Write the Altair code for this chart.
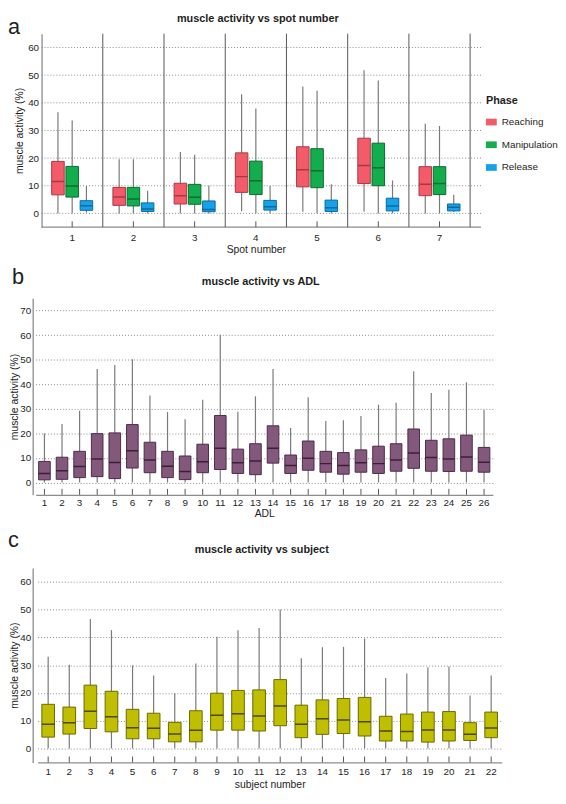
import altair as alt
import pandas as pd

FONT = "Liberation Sans"

# ---------------- panel a: spot number x phase ----------------
phases = ["Reaching", "Manipulation", "Release"]
fill_a = ["#F45B69", "#12AE4D", "#16A2E8"]
stroke_a = ["#A83844", "#0B6B30", "#0D6A9E"]
spots = [1, 2, 3, 4, 5, 6, 7]

reach_min = [0.0, 0.0, 0.0, 0.8, 0.6, 0.6, 0.0]
reach_q1 = [6.7, 2.9, 3.4, 7.6, 9.6, 10.8, 6.4]
reach_med = [11.5, 5.9, 6.4, 13.3, 15.8, 17.3, 10.5]
reach_q3 = [18.8, 9.4, 10.9, 21.9, 24.1, 27.2, 16.9]
reach_max = [36.6, 19.6, 22.2, 43.1, 45.9, 51.8, 32.4]

manip_min = [0.0, 0.0, 0.0, 0.0, 0.0, 0.0, 0.0]
manip_q1 = [5.9, 2.7, 3.3, 6.8, 9.3, 10.0, 6.8]
manip_med = [9.9, 5.2, 5.8, 11.8, 15.4, 16.5, 10.8]
manip_q3 = [17.0, 9.4, 10.5, 18.9, 23.4, 25.4, 16.9]
manip_max = [33.6, 19.6, 21.2, 37.9, 44.4, 48.1, 31.6]

rel_min = [0.3, 0.0, 0.0, 0.0, 0.0, 0.0, 0.5]
rel_q1 = [1.1, 0.7, 0.6, 1.2, 0.7, 0.9, 0.9]
rel_med = [2.8, 1.6, 1.4, 2.4, 2.0, 2.7, 2.2]
rel_q3 = [4.6, 3.8, 4.5, 4.7, 4.8, 5.5, 3.4]
rel_max = [9.9, 8.2, 10.1, 9.9, 10.5, 11.9, 6.7]

# ---------------- panel b: ADL ----------------
adls = list(range(1, 27))
adl_min = [0.0] * 26
adl_q1 = [1.1, 1.3, 2.0, 2.4, 1.6, 5.9, 4.0, 2.0, 1.2, 4.0, 5.3, 3.7, 3.2,
          7.9, 3.7, 5.0, 4.2, 3.4, 4.2, 3.7, 4.6, 5.8, 4.6, 4.5, 4.6, 4.2]
adl_med = [3.7, 4.8, 6.5, 9.6, 8.2, 12.9, 9.2, 6.6, 4.5, 8.5, 14.0, 8.1, 8.8,
           14.0, 6.9, 9.9, 7.7, 6.9, 8.1, 7.7, 9.2, 12.0, 10.2, 9.6, 10.4, 8.3]
adl_q3 = [8.6, 10.3, 12.7, 19.9, 20.2, 23.6, 16.4, 12.7, 10.8, 15.6, 27.3, 13.6, 15.8,
          23.1, 11.2, 16.9, 12.7, 12.2, 13.3, 14.8, 15.8, 21.8, 17.2, 17.8, 19.3, 14.3]
adl_max = [20.0, 23.8, 29.2, 46.2, 47.9, 50.2, 35.4, 28.7, 25.8, 33.7, 60.2, 28.8, 35.1,
           46.2, 22.2, 34.7, 25.1, 25.4, 27.1, 31.7, 32.5, 45.3, 36.5, 37.8, 40.8, 29.5]

# ---------------- panel c: subject ----------------
subjects = list(range(1, 23))
sub_min = [0.0] * 22
sub_q1 = [4.1, 5.2, 7.2, 6.0, 3.5, 3.5, 2.4, 2.4, 6.6, 6.6, 6.3, 8.2, 3.9, 5.1,
          5.4, 4.5, 2.7, 2.7, 2.3, 2.7, 2.9, 3.9]
sub_med = [8.7, 9.3, 13.4, 11.4, 7.5, 7.3, 5.2, 6.6, 12.0, 12.5, 11.7, 15.3, 8.7, 10.7,
           10.3, 9.6, 6.3, 6.1, 6.7, 6.7, 5.1, 7.4]
sub_q3 = [15.9, 14.9, 22.8, 20.6, 14.1, 12.7, 9.4, 13.6, 19.9, 20.9, 21.1, 24.8, 15.6, 17.5,
          18.0, 18.4, 11.6, 12.4, 13.1, 13.3, 9.3, 13.1]
sub_max = [33.0, 30.1, 46.6, 42.6, 29.9, 26.3, 19.9, 30.6, 40.2, 42.6, 43.4, 50.0, 32.5, 36.4,
           36.6, 39.6, 25.4, 27.0, 29.2, 29.5, 19.1, 26.3]

# ---------------- tables ----------------
rows = []
for ph, mn, q1, md, q3, mx in [
    ("Reaching", reach_min, reach_q1, reach_med, reach_q3, reach_max),
    ("Manipulation", manip_min, manip_q1, manip_med, manip_q3, manip_max),
    ("Release", rel_min, rel_q1, rel_med, rel_q3, rel_max),
]:
    for i, s in enumerate(spots):
        rows.append(dict(spot=s, phase=ph, lo=mn[i], q1=q1[i], med=md[i], q3=q3[i], hi=mx[i]))
df_a = pd.DataFrame(rows)
df_spots = pd.DataFrame({"spot": spots})
df_b = pd.DataFrame(dict(adl=adls, lo=adl_min, q1=adl_q1, med=adl_med, q3=adl_q3, hi=adl_max))
df_c = pd.DataFrame(dict(subject=subjects, lo=sub_min, q1=sub_q1, med=sub_med, q3=sub_q3, hi=sub_max))

GRID = "#8c8c8c"
TXT = "#1e1e1e"


def yenc(field, domain, values, label_pad, title_pad, grid=True, offset=0):
    return alt.Y(
        f"{field}:Q",
        title="muscle activity (%)",
        scale=alt.Scale(domain=domain, nice=False, zero=False),
        axis=alt.Axis(values=values, grid=grid, gridDash=[1, 2], gridColor=GRID, gridWidth=1,
                      ticks=False, domainColor=GRID, domainWidth=1.3, labelFontSize=10,
                      labelPadding=label_pad, labelColor=TXT, titleFontSize=10.5,
                      titleFontWeight="normal", titleColor=TXT, titlePadding=title_pad,
                      offset=offset),
    )


def xenc(field, title, rng, label_pad, title_pad, domain=True, **kw):
    return alt.X(
        f"{field}:O",
        title=title,
        scale=alt.Scale(range=rng, paddingInner=0, paddingOuter=0),
        axis=alt.Axis(labelAngle=0, ticks=False, grid=False, domain=domain, domainColor=GRID,
                      domainWidth=1.3, labelFontSize=10, labelPadding=label_pad, labelColor=TXT,
                      titleFontSize=10.5, titleFontWeight="normal", titleColor=TXT,
                      titlePadding=title_pad),
        **kw,
    )


def text_layer(txt, dx, dy, size, weight="normal", align="left", baseline="alphabetic"):
    return alt.Chart(pd.DataFrame({"t": [txt]})).mark_text(
        fontSize=size, fontWeight=weight, align=align, baseline=baseline, font=FONT, color=TXT
    ).encode(x=alt.value(dx), y=alt.value(dy), text="t:N")


# ---------------- panel a ----------------
# plot group starts where panels b and c start; the visible frame of panel a is inset
INSET = 9
WA, HA = 454, 196
dom_a = [-5, 65]
vals_a = [0, 10, 20, 30, 40, 50, 60]
xa = lambda **kw: xenc("spot", "Spot number", [INSET, INSET + 434], 5, 3, domain=False, **kw)
ya = lambda f: yenc(f, dom_a, vals_a, 3, 3, grid=False, offset=-INSET)
xoff = alt.XOffset("phase:N", sort=phases, scale=alt.Scale(paddingInner=0.12, paddingOuter=0.71))
stroke_scale = alt.Scale(domain=phases, range=stroke_a)

grid_a = alt.Chart(pd.DataFrame({"g": vals_a})).mark_rule(
    color=GRID, strokeDash=[1, 2], strokeWidth=1).encode(
    x=alt.value(INSET), x2=alt.value(WA), y=ya("g"))
base_a = alt.Chart(pd.DataFrame({"g": [0]})).mark_rule(color=GRID, strokeWidth=1.3).encode(
    x=alt.value(INSET), x2=alt.value(WA), y=alt.value(HA))
sep_a = alt.Chart(df_spots).mark_rule(color="#555555", strokeWidth=1).encode(
    x=xa(bandPosition=1), y=alt.value(0), y2=alt.value(HA))
tick_a = alt.Chart(df_spots).mark_rule(color="#555555", strokeWidth=1).encode(
    x=xa(), y=alt.value(HA - 6), y2=alt.value(HA))
whisk_a = alt.Chart(df_a).mark_rule(color="#7a7a7a", strokeWidth=1.2).encode(
    x=xa(), xOffset=xoff, y=ya("lo"), y2="hi:Q")
box_a = alt.Chart(df_a).mark_bar(strokeWidth=1).encode(
    x=xa(), xOffset=xoff, y=ya("q1"), y2="q3:Q",
    fill=alt.Fill("phase:N", sort=phases, scale=alt.Scale(domain=phases, range=fill_a),
                  legend=alt.Legend(title="Phase", orient="none", legendX=459, legendY=62,
                                    titleFontSize=11, titleFontWeight="bold", titleColor=TXT,
                                    labelFontSize=10, labelColor=TXT,
                                    symbolType="M-1,-0.62L1,-0.62L1,0.62L-1,0.62Z",
                                    symbolSize=121, symbolStrokeWidth=0, symbolOpacity=1,
                                    rowPadding=12, titlePadding=11, labelOffset=5)),
    stroke=alt.Stroke("phase:N", sort=phases, scale=stroke_scale, legend=None))
med_a = alt.Chart(df_a).mark_bar(fillOpacity=0, strokeWidth=1.5).encode(
    x=xa(), xOffset=xoff, y=ya("med"), y2="med:Q",
    stroke=alt.Stroke("phase:N", sort=phases, scale=stroke_scale, legend=None))

panel_a = alt.layer(
    grid_a, base_a, whisk_a, box_a, med_a, sep_a, tick_a,
    text_layer("a", -25, 0, 22),
    text_layer("muscle activity vs spot number", 228, -14.5, 11, "bold", "center", "middle"),
).properties(width=WA, height=HA)

# ---------------- panel b ----------------
WB, HB = 477, 199
dom_b = [-5, 75]
vals_b = [0, 10, 20, 30, 40, 50, 60, 70]
xb = lambda: xenc("adl", "ADL", [3, 466], 3, 1)
yb = lambda f: yenc(f, dom_b, vals_b, 2, 0)
fill_b, stroke_b = "#84587D", "#4A2C46"

whisk_b = alt.Chart(df_b).mark_rule(color="#7a7a7a", strokeWidth=1.2).encode(
    x=xb(), y=yb("lo"), y2="hi:Q")
box_b = alt.Chart(df_b).mark_bar(width=alt.RelativeBandSize(0.66), fill=fill_b, stroke=stroke_b,
                                 strokeWidth=1).encode(x=xb(), y=yb("q1"), y2="q3:Q")
med_b = alt.Chart(df_b).mark_bar(width=alt.RelativeBandSize(0.66), fillOpacity=0, stroke="#3a2035",
                                 strokeWidth=1.5).encode(x=xb(), y=yb("med"), y2="med:Q")
tick_b = alt.Chart(df_b).mark_rule(color="#555555", strokeWidth=1).encode(
    x=xb(), y=alt.value(HB - 6), y2=alt.value(HB))

panel_b = alt.layer(
    whisk_b, box_b, med_b, tick_b,
    text_layer("b", -21, -15, 22),
    text_layer("muscle activity vs ADL", 231, -16, 11, "bold", "center", "middle"),
).properties(width=WB, height=HB)

# ---------------- panel c ----------------
WC, HC = 476, 197
dom_c = [-5, 65]
vals_c = [0, 10, 20, 30, 40, 50, 60]
xc = lambda: xenc("subject", "subject number", [5, 475], 4, 3)
yc = lambda f: yenc(f, dom_c, vals_c, 2, 0)
fill_c, stroke_c = "#BFBE00", "#6B6A00"

whisk_c = alt.Chart(df_c).mark_rule(color="#7a7a7a", strokeWidth=1.2).encode(
    x=xc(), y=yc("lo"), y2="hi:Q")
box_c = alt.Chart(df_c).mark_bar(width=alt.RelativeBandSize(0.6), fill=fill_c, stroke=stroke_c,
                                 strokeWidth=1).encode(x=xc(), y=yc("q1"), y2="q3:Q")
med_c = alt.Chart(df_c).mark_bar(width=alt.RelativeBandSize(0.6), fillOpacity=0, stroke="#4a4900",
                                 strokeWidth=1.5).encode(x=xc(), y=yc("med"), y2="med:Q")
tick_c = alt.Chart(df_c).mark_rule(color="#555555", strokeWidth=1).encode(
    x=xc(), y=alt.value(HC - 6), y2=alt.value(HC))

panel_c = alt.layer(
    whisk_c, box_c, med_c, tick_c,
    text_layer("c", -25, -21, 22),
    text_layer("muscle activity vs subject", 232, -18, 11, "bold", "center", "middle"),
).properties(width=WC, height=HC)

chart = alt.concat(panel_a, panel_b, panel_c, columns=1, spacing=10).properties(
    padding={"left": 0, "top": 0, "right": 0, "bottom": 0}
).configure(font=FONT).configure_view(stroke=None)

chart.save("out.html", embed_options={"renderer": "svg", "actions": False})
